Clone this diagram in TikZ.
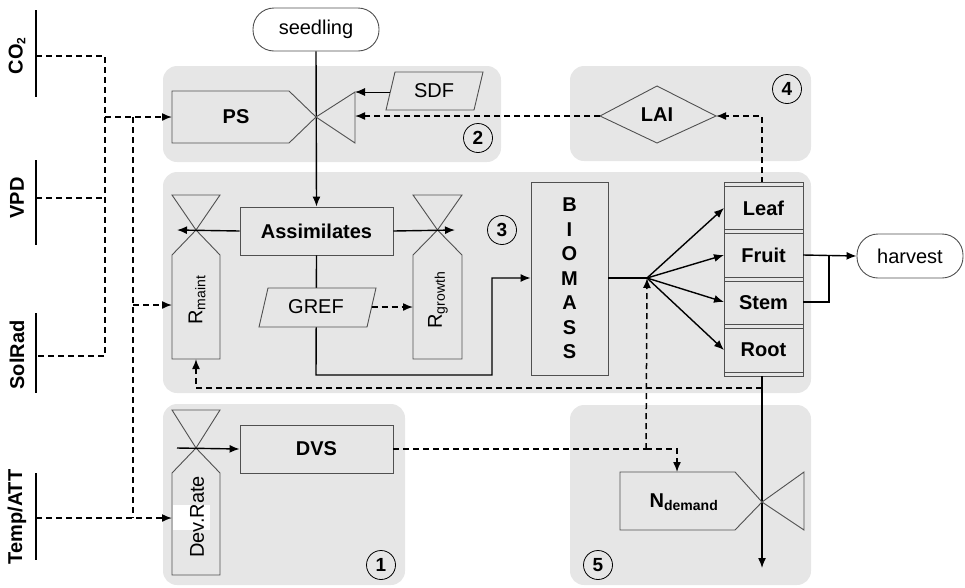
\documentclass[tikz,border=0pt]{standalone}
\usepackage{fontspec}
\setmainfont{Liberation Sans}
\usetikzlibrary{arrows.meta,calc}
\definecolor{panelgray}{RGB}{230,230,230}
\definecolor{edgegray}{RGB}{80,80,80}
\newcommand\fsz{\fontsize{20}{24}\selectfont}
\newcommand\fnum{\fontsize{19}{22}\selectfont}
\tikzset{
  panel/.style={fill=panelgray, rounded corners=14pt},
  shp/.style={draw=edgegray, line width=0.9pt, fill=panelgray},
  box/.style={draw=edgegray, line width=0.9pt, fill=panelgray, inner sep=0pt, font=\fsz\bfseries},
  term/.style={draw=edgegray, line width=0.9pt, fill=white, rounded corners=21pt, inner sep=0pt, font=\fsz},
  lbl/.style={inner sep=0pt, font=\fsz},
  blbl/.style={inner sep=0pt, font=\fsz\bfseries},
  circnum/.style={draw=black, line width=0.8pt, circle, minimum size=29pt, inner sep=0pt, font=\fnum\bfseries},
  conn/.style={draw=black, line width=1.4pt},
  arr/.style={conn, -{Latex[length=10pt,width=8pt]}},
  dconn/.style={draw=black, line width=1.5pt, dash pattern=on 6pt off 4pt},
  darr/.style={dconn, -{Latex[length=10pt,width=8pt]}},
  inputbar/.style={draw=black, line width=2.5pt},
}
\begin{document}
\begin{tikzpicture}[x=1pt,y=-1pt]
\useasboundingbox (0,0) rectangle (965,587);
% panels
\fill[panel] (163,66) rectangle (501,162);
\fill[panel] (570,66) rectangle (811,161);
\fill[panel] (163,172) rectangle (811,393);
\fill[panel] (163,404) rectangle (405,585);
\fill[panel] (570,405) rectangle (811,585);

% input bars and labels
\draw[inputbar] (36,10) -- (36,97);
\draw[inputbar] (36,160) -- (36,245);
\draw[inputbar] (36,313) -- (36,393);
\draw[inputbar] (36,473) -- (36,560);
\node[blbl, rotate=90] (co2lbl) at (17,56) {CO\raisebox{-0.25ex}{\fontsize{12}{12}\selectfont 2}};
\node[blbl, rotate=90] (vpdlbl) at (17,198) {VPD};
\node[blbl, rotate=90] (sollbl) at (17,355) {SolRad};
\node[blbl, rotate=90] (templbl) at (17,517) {Temp/ATT};
\coordinate (co2) at (36,56);
\coordinate (vpd) at (36,198);
\coordinate (sol) at (36,356);
\coordinate (temp) at (36,518);
\coordinate (j1) at (105,117);
\coordinate (j2) at (133,117);
\coordinate (j3) at (133,305);

% terminals
\node[term, minimum width=126pt, minimum height=43pt] (seed) at (316,29.5) {seedling};
\node[term, minimum width=106pt, minimum height=44pt] (harv) at (910,256) {harvest};

% nodes for anchors
\node[box, minimum width=153pt, minimum height=48pt] (assim) at (316.5,231) {Assimilates};
\node[box, minimum width=153pt, minimum height=48pt] (dvs) at (316.5,449) {DVS};
\node[box, minimum width=77pt, minimum height=193pt] (bio) at (569.5,278.5) {};

% coordinates
\coordinate (pstip) at (316,117);
\coordinate (psin) at (172,117);
\coordinate (sdfL) at (390.3,92);
\coordinate (vedgeA) at (355,92);
\coordinate (vedgeB) at (355,116);
\coordinate (laiL) at (600,116);
\coordinate (laiR) at (716,116);
\coordinate (leafTop) at (762,183);
\coordinate (rmL) at (172,305);
\coordinate (rmB) at (196,359);
\coordinate (rmTip) at (177,230);
\coordinate (rgTip) at (455,230);
\coordinate (rgL) at (413,307);
\coordinate (grefR) at (371.5,307);
\coordinate (split) at (647,278);
\coordinate (leafL) at (724,208);
\coordinate (fruitL) at (724,255);
\coordinate (stemL) at (724,302);
\coordinate (rootL) at (724,350);
\coordinate (fruitR) at (803,255);
\coordinate (stemR) at (803,302);
\coordinate (rootB) at (762,376);
\coordinate (rootEnd) at (762,568);
\coordinate (rootD) at (762,388);
\coordinate (nj) at (646,449);
\coordinate (nTop) at (677,472);
\coordinate (drL) at (172,518);
\coordinate (drS) at (177,448);

% dashed input connectors
\draw[dconn] (co2) -| (105,356) -- (sol);
\draw[dconn] (vpd) -- (105,198);
\draw[darr] (j1) -- (psin);
\draw[dconn] (j2) -- (133,518);
\draw[darr] (temp) -- (drL);
\draw[darr] (j3) -- (rmL);

% Assimilates to biomass (behind GREF)
\draw[arr] (assim.south) -- (316,375) -- (492,375) -- (492,278) -- (bio.west |- 0,278);

% seedling line
\draw[arr] (seed.south) -- (assim.north);

% PS and valve
\draw[shp] (172,91) -- (289,91) -- (pstip) -- (289,143) -- (172,143) -- cycle;
\node[blbl] (ps) at (236,117) {PS};
\draw[shp] (pstip) -- (355,92) -- (355,143) -- cycle;

% SDF
\draw[shp] (395,72) -- (483,72) -- (474,110) -- (386,110) -- cycle;
\node[lbl] (sdf) at (434,91) {SDF};
\draw[conn, -{Latex[length=10pt,width=8pt]}, line width=1pt] (sdfL) -- (vedgeA);

% LAI
\draw[shp] (laiL) -- (657,86) -- (laiR) -- (657,143) -- cycle;
\node[blbl] (lai) at (657,115) {LAI};
\draw[darr] (laiL) -- (vedgeB);
\draw[darr] (leafTop) |- (laiR);

% R_maint
\draw[shp] (172,195) -- (220,195) -- (196,230) -- cycle;
\draw[shp] (196,230) -- (220,255) -- (220,359) -- (172,359) -- (172,255) -- cycle;
\node[lbl, rotate=90] (rmaint) at (197,300) {R\textsubscript{maint}};
\draw[arr] (assim.west) -- (rmTip);

% R_growth
\draw[shp] (413,195) -- (462,195) -- (437.5,230) -- cycle;
\draw[shp] (437.5,230) -- (462,255) -- (462,359) -- (413,359) -- (413,255) -- cycle;
\node[lbl, rotate=90] (rgrowth) at (438,300) {R\textsubscript{growth}};
\draw[arr] (assim.east) -- (rgTip);

% GREF
\draw[shp] (268,288) -- (376,288) -- (367,327) -- (259,327) -- cycle;
\node[lbl] (gref) at (316,307) {GREF};
\draw[darr] (grefR) -- (rgL);

% BIOMASS letters
\foreach \ch [count=\i from 0] in {B,I,O,M,A,S,S}
  \node[blbl] at (569.5,{205+24.5*\i}) {\ch};

% organ stack
\draw[shp] (724,182) rectangle (803,376);
\foreach \yy in {186,229,233,277,281,324,328,372}
  \draw[draw=edgegray, line width=0.9pt] (724,\yy) -- (803,\yy);
\node[blbl] (leaf) at (763.5,208) {Leaf};
\node[blbl] (fruit) at (763.5,255) {Fruit};
\node[blbl] (stem) at (763.5,302.5) {Stem};
\node[blbl] (root) at (763.5,350) {Root};

% allocation
\draw[conn] (bio.east |- split) -- (split);
\draw[arr] (split) -- (leafL);
\draw[arr] (split) -- (fruitL);
\draw[arr] (split) -- (stemL);
\draw[arr] (split) -- (rootL);
\draw[arr] (fruitR) -- (harv.west);
\draw[conn] (stemR) -- (829,302) -- (829,255);
\draw[arr] (rootB) -- (rootEnd);
\draw[darr] (rootD) -| (rmB);

% DVS / N demand dashed
\draw[dconn] (dvs.east) -- (nj);
\draw[darr] (nj) -- (split);
\draw[darr] (nj) -| (nTop);

% N_demand
\draw[shp] (620,472) -- (735,472) -- (762,502) -- (735,530) -- (620,530) -- cycle;
\draw[shp] (762,502) -- (804,472) -- (804,530) -- cycle;
\node[blbl] (ndem) at (684,502) {N\textsubscript{demand}};

% Dev.Rate
\draw[shp] (172,410) -- (220,410) -- (196,448) -- cycle;
\draw[shp] (196,448) -- (220,473) -- (220,575) -- (172,575) -- (172,473) -- cycle;
\fill[white] (173,505) rectangle (210,530);
\node[lbl, rotate=90] (devrate) at (197,517) {Dev.Rate};
\draw[arr] (drS) -- (dvs.west);

% circled numbers
\node[circnum] (n1) at (381,565) {1};
\node[circnum] (n2) at (478,138) {2};
\node[circnum] (n3) at (502,230) {3};
\node[circnum] (n4) at (787,89) {4};
\node[circnum] (n5) at (598,565) {5};
\end{tikzpicture}
\end{document}
